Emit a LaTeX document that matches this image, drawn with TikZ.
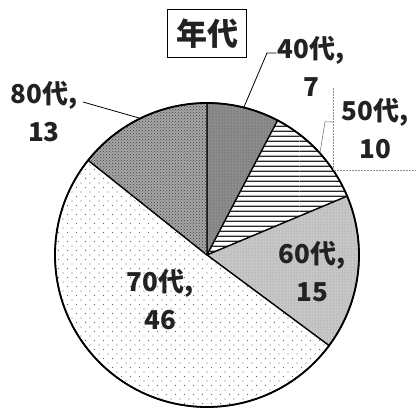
\documentclass[tikz,border=0pt]{standalone}
\usepackage{fontspec}
\usepackage{tikz}
\usetikzlibrary{patterns, positioning, calc}
\newfontfamily\jpfont{Noto Sans CJK JP}[BoldFont={Noto Sans CJK JP Black}]
\definecolor{inkgray}{HTML}{222222}

% sparse staggered dots for the largest slice
\pgfdeclarepatternformonly{sparse dots}{\pgfqpoint{-1pt}{-1pt}}{\pgfqpoint{9pt}{9pt}}{\pgfqpoint{9pt}{9pt}}{%
  \pgfpathcircle{\pgfqpoint{0pt}{0pt}}{0.55pt}
  \pgfpathcircle{\pgfqpoint{4.5pt}{4.5pt}}{0.55pt}
  \pgfusepath{fill}}
% wider horizontal hatching
\pgfdeclarepatternformonly{wide hlines}{\pgfqpoint{0pt}{0pt}}{\pgfqpoint{100pt}{4.6pt}}{\pgfqpoint{100pt}{4.6pt}}{%
  \pgfpathrectangle{\pgfqpoint{0pt}{0pt}}{\pgfqpoint{100pt}{1.5pt}}
  \pgfusepath{fill}}

\begin{document}
\begin{tikzpicture}[x=1pt, y=1pt,
  slice/.style={draw=black, line width=1.3pt, line join=round},
  s40/.style={fill=black!45, postaction={pattern=dots, pattern color=black!70}},
  s50/.style={fill=white, postaction={pattern=wide hlines, pattern color=black!85}},
  s60/.style={fill=black!22, postaction={pattern=dots, pattern color=black!45}},
  s70/.style={fill=white, postaction={pattern=sparse dots, pattern color=black!60}},
  s80/.style={fill=black!35, postaction={pattern=crosshatch dots, pattern color=black!75}},
  lbl/.style={font=\jpfont\bfseries\fontsize{26}{38}\selectfont, align=center, text=inkgray, inner sep=1pt},
  leader/.style={draw=black, line width=0.8pt},
  thinleader/.style={draw=black!60, line width=0.5pt},
  frame/.style={draw=black!45, densely dotted, line width=0.5pt}
]
  \useasboundingbox (0,0) rectangle (416,408);
  \fill[white] (0,0) rectangle (416,408);

  % Pie
  \coordinate (c) at (207,153);
  \foreach \a/\b/\sty in {90/62.31/s40, 62.31/22.75/s50, 22.75/-36.59/s60,
                          -36.59/-218.57/s70, 141.43/90/s80}
    \filldraw[slice, \sty] (c) -- ++(\a:152) arc[start angle=\a, end angle=\b, radius=152] -- cycle;
  \draw[line width=1.8pt] (c) circle[radius=152];

  % Title
  \node[draw=black, line width=1pt, font=\jpfont\bfseries\fontsize{31}{36}\selectfont,
        text=inkgray, minimum width=79pt, minimum height=48pt, inner sep=2pt] (title) at (207,374) {年代};

  % Labels
  \node[lbl] (lab40) at (311,342) {40代,\\7};
  \node[lbl] (lab50) at (375,279) {50代,\\10};
  \node[lbl] (lab60) at (312,136) {60代,\\15};
  \node[lbl] (lab70) at (160,108) {70代,\\46};
  \node[lbl] (lab80) at (44,296) {80代,\\13};

  % Leader lines
  \coordinate (e40) at ($(c)+(76:152)$);
  \coordinate (k40) at (267,355);
  \draw[leader] (e40) -- (k40) -- (k40 -| lab40.west);
  \coordinate (e50) at ($(c)+(42:152)$);
  \coordinate (k50) at (325,286);
  \draw[thinleader] (e50) -- (k50) -- (333,286);
  \draw[frame] (333,320) |- (416,238);
  \coordinate (e80) at ($(c)+(116:152)$);
  \coordinate (k80) at (83,306);
  \draw[leader] (e80) -- (k80);
\end{tikzpicture}
\end{document}
